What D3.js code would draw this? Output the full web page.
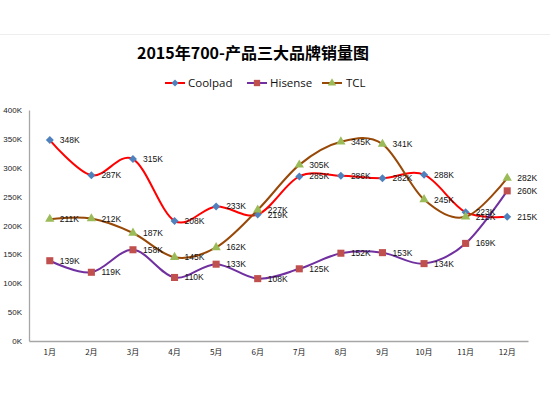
<!DOCTYPE html>
<html><head><meta charset="utf-8">
<script src="https://cdn.jsdelivr.net/npm/d3@7"></script>
<style>body{margin:0;background:#fff}svg{display:block}</style>
</head><body>
<script>
const months = ["1月","2月","3月","4月","5月","6月","7月","8月","9月","10月","11月","12月"];
const coolpad = [348,287,315,208,233,219,285,286,282,288,223,215];
const hisense = [139,119,158,110,133,108,125,152,153,134,169,260];
const tcl = [211,212,187,145,162,227,305,345,341,245,215,282];
const yTicks = [0,50,100,150,200,250,300,350,400];
const title = "2015年700-产品三大品牌销量图";

const series = [
  {name:"Coolpad", values:coolpad, line:"#FF0000", fill:"#4F81BD", shape:"diamond"},
  {name:"Hisense", values:hisense, line:"#7030A0", fill:"#C0504D", shape:"square"},
  {name:"TCL", values:tcl, line:"#984807", fill:"#9BBB59", shape:"triangle"}
];
function marker(g, shape, scale){
  if(shape==="diamond") return g.append("path").attr("d",d3.symbol(d3.symbolSquare,32*scale)()).attr("transform-extra","rotate(45)");
  if(shape==="square") return g.append("path").attr("d",d3.symbol(d3.symbolSquare,50*scale)());
  return g.append("path").attr("d",d3.symbol(d3.symbolTriangle,38*scale)());
}

const W=550,H=400;
const svg=d3.select("body").append("svg").attr("width",W).attr("height",H);
svg.append("line").attr("x1",0).attr("x2",W).attr("y1",34.5).attr("y2",34.5).attr("stroke","#eeeeee");

const x=d3.scaleBand().domain(months).range([29,528]);
const y=d3.scaleLinear().domain([0,400]).range([341,110]);
const cx=m=>x(m)+x.bandwidth()/2;
const font="'Liberation Sans', Arial, sans-serif";

svg.append("text").attr("x",253).attr("y",59).attr("text-anchor","middle")
  .attr("font-family","'Noto Sans CJK SC', sans-serif").attr("font-weight","bold").attr("font-size",16)
  .attr("fill","#000").text(title);

const ya=svg.append("g").attr("transform","translate(29,0)")
  .call(d3.axisLeft(y).tickValues(yTicks).tickSize(0).tickPadding(7).tickFormat(d=>d+"K"));
ya.select(".domain").attr("stroke","#a6a6a6").attr("stroke-width",1.3);
ya.selectAll("text").attr("font-family",font).attr("font-size",8).attr("fill","#222");

const xa=svg.append("g").attr("transform","translate(0,341)")
  .call(d3.axisBottom(x).tickSize(0).tickPadding(8));
xa.select(".domain").attr("stroke","#a6a6a6").attr("stroke-width",1.3);
xa.selectAll("text").attr("font-family","'Noto Sans CJK SC', sans-serif").attr("font-size",8).attr("fill","#222");

const line=d3.line().x((d,i)=>cx(months[i])).y(d=>y(d)).curve(d3.curveCardinal.tension(0));

series.forEach(s=>{
  svg.append("path").attr("d",line(s.values)).attr("fill","none").attr("stroke",s.line).attr("stroke-width",2);
  s.values.forEach((v,i)=>{
    const g=svg.append("g").attr("transform",`translate(${cx(months[i])},${y(v)})`);
    const p=marker(g,s.shape,1).attr("fill",s.fill);
    if(s.shape==="diamond") p.attr("transform","rotate(45)");
  });
});
series.forEach(s=>{
  svg.append("g").selectAll("text").data(s.values).join("text")
    .attr("x",(d,i)=>cx(months[i])+10).attr("y",d=>y(d)+3)
    .attr("font-family",font).attr("font-size",8.5).attr("fill","#111")
    .text(d=>d+"K");
});

const lx=[165,247,322], tx=[188,270,346];
series.forEach((s,i)=>{
  const g=svg.append("g");
  g.append("line").attr("x1",lx[i]).attr("x2",lx[i]+20).attr("y1",83).attr("y2",83).attr("stroke",s.line).attr("stroke-width",2);
  const mg=g.append("g").attr("transform",`translate(${lx[i]+10},83)`);
  const p=marker(mg,s.shape,0.8).attr("fill",s.fill);
  if(s.shape==="diamond") p.attr("transform","rotate(45)");
  g.append("text").attr("x",tx[i]).attr("y",87).attr("font-family","'Open Sans', 'Liberation Sans', sans-serif").attr("font-size",11.5).attr("fill","#111").text(s.name);
});
</script>
</body></html>
